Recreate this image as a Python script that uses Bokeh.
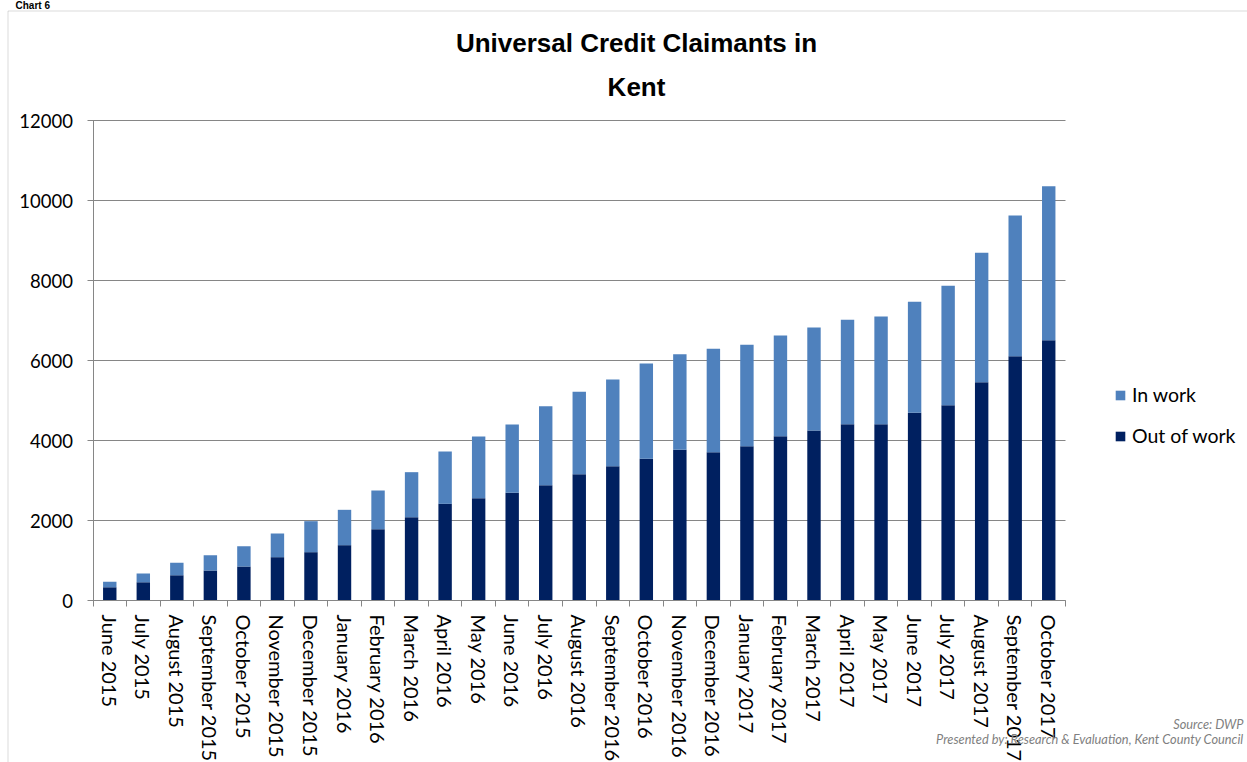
import numpy as np
from bokeh.plotting import figure
from bokeh.models import (ColumnDataSource, Range1d, LinearAxis, FixedTicker,
                          CustomJSTickFormatter, Legend, LegendItem, Label, BoxAnnotation)
from bokeh.embed import file_html
from bokeh.resources import INLINE

# ---- data ----
months = ["June 2015", "July 2015", "August 2015", "September 2015", "October 2015",
          "November 2015", "December 2015", "January 2016", "February 2016", "March 2016",
          "April 2016", "May 2016", "June 2016", "July 2016", "August 2016",
          "September 2016", "October 2016", "November 2016", "December 2016",
          "January 2017", "February 2017", "March 2017", "April 2017", "May 2017",
          "June 2017", "July 2017", "August 2017", "September 2017", "October 2017"]
out_of_work = [333, 458, 633, 750, 850, 1083, 1208, 1383, 1783, 2083, 2417, 2558, 2692, 2883,
               3158, 3358, 3542, 3767, 3708, 3858, 4108, 4250, 4408, 4408, 4692, 4883, 5458,
               6108, 6508]
in_work = [134, 217, 309, 383, 508, 592, 775, 884, 967, 1125, 1308, 1542, 1708, 1975, 2059,
           2167, 2383, 2391, 2584, 2534, 2517, 2575, 2609, 2692, 2775, 2984, 3234, 3517, 3850]
y_ticks = [0, 2000, 4000, 6000, 8000, 10000, 12000]
series_names = ["Out of work", "In work"]
title_lines = ["Universal Credit Claimants in", "Kent"]
chart_label = "Chart 6"
source_lines = ["Source: DWP", "Presented by: Research & Evaluation, Kent County Council"]

# ---- styles / layout (pixels) ----
DARK = "#002060"
LIGHT = "#4F81BD"
GRID = "#868686"
FONT = "Lato"
W, H = 1247, 762
PL, PR, PT, PB = 92.5, 1065.0, 120.0, 600.0   # plotting area inside the canvas

n = len(months)
idx = np.arange(n)
ymin, ymax = y_ticks[0], y_ticks[-1]
xs = n / (PR - PL)              # data units per pixel (x)
ys = (ymax - ymin) / (PB - PT)  # data units per pixel (y)
x_range = Range1d(0 - PL * xs, n + (W - PR) * xs)
y_range = Range1d(ymin - (H - PB) * ys, ymax + PT * ys)

src = ColumnDataSource(dict(x=idx + 0.5, out=out_of_work, inw=in_work))
grid_src = ColumnDataSource(dict(x0=[0] * len(y_ticks), x1=[n] * len(y_ticks),
                                 y=y_ticks))

p = figure(width=W, height=H, output_backend="svg", toolbar_location=None,
           x_range=x_range, y_range=y_range,
           x_axis_type=None, y_axis_type=None, title=None,
           min_border=0, min_border_left=0, min_border_right=0,
           min_border_top=0, min_border_bottom=0)
p.outline_line_color = None
p.background_fill_color = "white"
p.border_fill_color = "white"

# outer frame of the chart sheet
p.add_layout(BoxAnnotation(left=7.5, right=W + 50, top=10.5, bottom=H + 50,
                           left_units="canvas", right_units="canvas",
                           top_units="canvas", bottom_units="canvas",
                           fill_alpha=0, line_color=GRID, line_width=1))

# horizontal gridlines, limited to the plotting area
p.segment(x0="x0", x1="x1", y0="y", y1="y", source=grid_src,
          line_color=GRID, line_width=1)

rs = p.vbar_stack(["out", "inw"], x="x", width=0.4, color=[DARK, LIGHT],
                  line_color=None, source=src)

yax = LinearAxis(ticker=FixedTicker(ticks=y_ticks, minor_ticks=[]), fixed_location=0,
                 bounds=(ymin, ymax))
yax.axis_line_color = GRID
yax.major_tick_line_color = GRID
yax.major_tick_in = 0
yax.major_tick_out = 6
yax.minor_tick_line_color = None
yax.major_label_standoff = 14
yax.major_label_text_font = FONT
yax.major_label_text_font_size = "18.5px"
yax.major_label_text_color = "#000000"
p.add_layout(yax, "left")

xax = LinearAxis(ticker=FixedTicker(ticks=list(idx + 0.5), minor_ticks=list(range(n + 1))),
                 formatter=CustomJSTickFormatter(args=dict(labels=months),
                                                 code="return labels[Math.floor(tick)]"),
                 fixed_location=ymin, bounds=(0, n))
xax.axis_line_color = GRID
xax.major_tick_line_color = None
xax.major_tick_in = 0
xax.major_tick_out = 0
xax.minor_tick_line_color = GRID
xax.minor_tick_in = 0
xax.minor_tick_out = 6
xax.major_label_orientation = "vertical"
xax.major_label_standoff = 8
xax.major_label_text_font = FONT
xax.major_label_text_font_size = "20px"
xax.major_label_text_color = "#000000"
p.add_layout(xax, "below")

legend = Legend(items=[LegendItem(label=series_names[1], renderers=[rs[1]]),
                       LegendItem(label=series_names[0], renderers=[rs[0]])],
                location=(1114, H - 447), orientation="vertical",
                glyph_width=12, glyph_height=12, label_height=22, label_standoff=6,
                spacing=18, padding=0, margin=0,
                border_line_color=None, background_fill_alpha=0,
                label_text_font=FONT, label_text_font_size="19.5px",
                label_text_color="#000000")
p.add_layout(legend)

# headings and source note (y = vertical centre of the text line)
p.add_layout(Label(x=15, y=5, x_units="canvas", y_units="canvas", text=chart_label,
                   text_font="Liberation Sans", text_font_style="bold",
                   text_font_size="10px", text_baseline="middle", text_color="#000000"))
for t, yy in zip(title_lines, [42.5, 86.5]):
    p.add_layout(Label(x=636, y=yy, x_units="canvas", y_units="canvas", text=t,
                       text_font="Liberation Sans", text_font_style="bold",
                       text_font_size="26px", text_align="center",
                       text_baseline="middle", text_color="#000000"))
for t, yy in zip(source_lines, [723.5, 738.5]):
    p.add_layout(Label(x=1243, y=yy, x_units="canvas", y_units="canvas", text=t,
                       text_font=FONT, text_font_style="italic",
                       text_font_size="12.8px", text_align="right",
                       text_baseline="middle", text_color="#7F7F7F"))

open("out.html", "w").write(file_html(p, INLINE))
